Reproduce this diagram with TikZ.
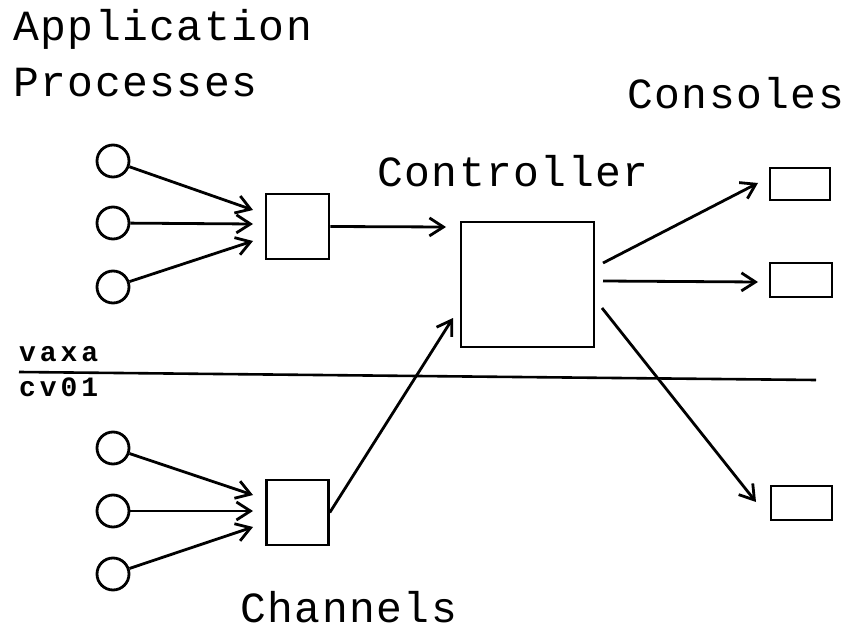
\documentclass[tikz,border=0pt]{standalone}
\usepackage{fontspec}
\setmainfont{Liberation Mono}
\newfontfamily\plotfont[LetterSpace=3.5]{Liberation Mono}
\newfontfamily\smallplot[LetterSpace=14]{Liberation Mono}
\usetikzlibrary{arrows.meta}
\tikzset{
  proc/.style={circle,draw,minimum size=32pt,inner sep=0pt,line width=2.8pt},
  sbox/.style={draw,line width=2.6pt,inner sep=0pt},
  conn/.style={line width=2.8pt,-{Straight Barb[length=14pt,width=18pt]}},
  lbl/.style={anchor=base west,inner sep=0pt,font=\plotfont\fontsize{43}{43}\selectfont},
  slbl/.style={anchor=base west,inner sep=0pt,font=\smallplot\bfseries\fontsize{28}{28}\selectfont},
}
\begin{document}
\begin{tikzpicture}[x=1pt,y=-1pt]
\useasboundingbox (0,0) rectangle (849,631);
% labels
\node[lbl] (tapp) at (13,41) {Application};
\node[lbl] (tproc) at (13,97) {Processes};
\node[lbl] (tcons) at (627,109) {Consoles};
\node[lbl] (tctrl) at (377,187) {Controller};
\node[lbl] (tchan) at (240,622) {Channels};
\node[slbl] (tvaxa) at (19,361) {vaxa};
\node[slbl] (tcv) at (19,396) {cv01};
% separator
\coordinate (L1) at (19,372);
\coordinate (L2) at (816,380);
\draw[line width=2.6pt] (L1) -- (L2);
% top processes
\node[proc] (c1) at (113,161) {};
\node[proc] (c2) at (113,223) {};
\node[proc] (c3) at (113,287) {};
\node[sbox,minimum width=63pt,minimum height=65pt] (b1) at (297.5,226.5) {};
\coordinate (t1) at (253,210);
\coordinate (t2) at (253,224);
\coordinate (t3) at (253,241);
\draw[conn] (c1) -- (t1);
\draw[conn] (c2) -- (t2);
\draw[conn] (c3) -- (t3);
% bottom processes
\node[proc] (c4) at (113,448) {};
\node[proc] (c5) at (113,511) {};
\node[proc] (c6) at (113,574) {};
\node[sbox,minimum width=62pt,minimum height=65pt] (b2) at (297.5,512.5) {};
\coordinate (t4) at (253,495);
\coordinate (t5) at (253,511);
\coordinate (t6) at (253,527);
\draw[conn] (c4) -- (t4);
\draw[conn] (c5) -- (t5);
\draw[conn] (c6) -- (t6);
% controller
\node[sbox,minimum width=133pt,minimum height=125pt] (ctrl) at (527.5,284.5) {};
\coordinate (ta) at (446,227);
\coordinate (tb) at (453,318);
\draw[conn] (b1.east) -- (ta);
\draw[conn] (b2.east) -- (tb);
% consoles
\node[sbox,minimum width=60pt,minimum height=32pt] (k1) at (800,184) {};
\node[sbox,minimum width=62pt,minimum height=34pt] (k2) at (801,280) {};
\node[sbox,minimum width=61pt,minimum height=34pt] (k3) at (801.5,503) {};
\coordinate (s1) at (603,263);
\coordinate (s2) at (603,281);
\coordinate (s3) at (602,308);
\coordinate (u1) at (758,183);
\coordinate (u2) at (758,282);
\coordinate (u3) at (756,502);
\draw[conn] (s1) -- (u1);
\draw[conn] (s2) -- (u2);
\draw[conn] (s3) -- (u3);
\end{tikzpicture}
\end{document}
